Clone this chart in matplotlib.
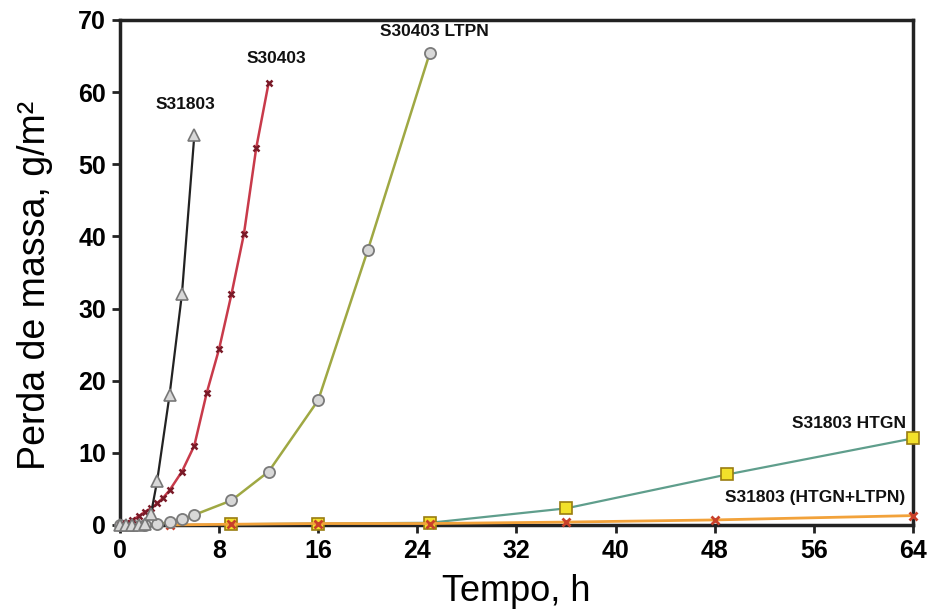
import matplotlib
matplotlib.use("Agg")
import matplotlib.pyplot as plt

plt.rcParams['font.family'] = ['Liberation Sans', 'DejaVu Sans']

# S31803
t_s31803 = [0, 0.5, 1, 1.5, 2, 2.5, 3, 4, 5, 6]
m_s31803 = [0, 0, 0, 0, 0.2, 1.5, 6.1, 18, 32, 54]

# S30403
t_s30403 = [0, 0.5, 1, 1.5, 2, 2.5, 3, 3.5, 4, 5, 6, 7, 8, 9, 10, 11, 12]
m_s30403 = [0, 0.3, 0.7, 1.2, 1.8, 2.3, 3.0, 3.8, 4.8, 7.4, 11, 18.3, 24.4, 32, 40.3, 52.3, 61.3]

# S30403 LTPN
t_ltpn = [0, 1, 2, 3, 4, 5, 6, 9, 12, 16, 20, 25]
m_ltpn = [0, 0, 0, 0.1, 0.4, 0.8, 1.4, 3.4, 7.4, 17.3, 38.1, 65.4]

# S31803 HTGN
t_htgn = [9, 16, 25, 36, 49, 64]
m_htgn = [0.1, 0.2, 0.3, 2.3, 7.0, 12.0]

# S31803 (HTGN+LTPN)
t_both = [4, 9, 16, 25, 36, 48, 64]
m_both = [0, 0.1, 0.2, 0.2, 0.4, 0.7, 1.3]

fig = plt.figure(figsize=(9.3, 6.13), dpi=100)
ax = fig.add_axes([0.129, 0.1436, 0.8527, 0.8238])

ax.plot(t_htgn, m_htgn, color='#5f9e8c', lw=1.6, marker='s', ms=8,
        mfc='#f2e12a', mec='#9a7d10', mew=1.2, clip_on=False, zorder=3)
ax.plot(t_both, m_both, color='#f2a23a', lw=2, marker='x', ms=6, mew=2,
        mec='#c8402a', clip_on=False, zorder=4)
ax.plot(t_ltpn, m_ltpn, color='#9fa843', lw=1.8, marker='o', ms=8,
        mfc='#d8d8d8', mec='#7a7a7a', mew=1.3, clip_on=False, zorder=5)
ax.plot(t_s30403, m_s30403, color='#c83a4a', lw=1.8, marker='x', ms=5, mew=1.8,
        mec='#7a1a28', clip_on=False, zorder=6)
ax.plot(t_s31803, m_s31803, color='#222222', lw=1.6, marker='^', ms=8,
        mfc='#d8d8d8', mec='#777777', mew=1.2, clip_on=False, zorder=7)

lab = dict(fontsize=12.5, fontweight='bold', color='#111111')
ax.text(5.3, 58.3, 'S31803', ha='center', va='center', **lab)
ax.text(12.6, 64.7, 'S30403', ha='center', va='center', **lab)
ax.text(25.4, 68.4, 'S30403 LTPN', ha='center', va='center', **lab)
ax.text(63.4, 14.0, 'S31803 HTGN', ha='right', va='center', **lab)
ax.text(63.4, 3.8, 'S31803 (HTGN+LTPN)', ha='right', va='center', **lab)

ax.set_xlim(0, 64)
ax.set_ylim(0, 70)
ax.set_xticks([0, 8, 16, 24, 32, 40, 48, 56, 64])
ax.set_yticks([0, 10, 20, 30, 40, 50, 60, 70])
ax.tick_params(axis='both', direction='out', length=6, width=2, labelsize=18,
               pad=4, color='#222222')
for t in ax.get_xticklabels() + ax.get_yticklabels():
    t.set_fontweight('bold')

for s in ax.spines.values():
    s.set_linewidth(2.5)
    s.set_color('#222222')

ax.set_xlabel('Tempo, h', fontsize=26, labelpad=8)
ax.set_ylabel('Perda de massa, g/m²', fontsize=27)
ax.yaxis.set_label_coords(-0.084, 0.475)

fig.savefig('out.png', dpi=100)
